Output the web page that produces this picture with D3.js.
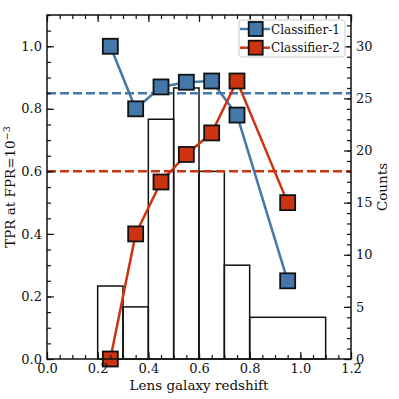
<!DOCTYPE html>
<html>
<head>
<meta charset="utf-8">
<script src="https://cdn.jsdelivr.net/npm/d3@7"></script>
<style>
  body { margin: 0; background: #fff; }
  svg { font-family: "DejaVu Serif", serif; }
</style>
</head>
<body>
<div id="chart"></div>
<script>
// redshift bins for the points
var zMid = [0.25, 0.35, 0.45, 0.55, 0.65, 0.75, 0.95];
var tpr1 = [1.0, 0.80, 0.87, 0.885, 0.889, 0.78, 0.25];
var tpr2 = [0.0, 0.40, 0.566, 0.654, 0.723, 0.889, 0.50];
var base1 = 0.85, base2 = 0.60;

// histogram of lens redshifts
var binEdges = [0.2, 0.3, 0.4, 0.5, 0.6, 0.7, 0.8, 1.1];
var counts = [7, 5, 23, 26, 18, 9, 4];

var xTicks = [0.0, 0.2, 0.4, 0.6, 0.8, 1.0, 1.2];
var yTicks = [0.0, 0.2, 0.4, 0.6, 0.8, 1.0];
var cTicks = [0, 5, 10, 15, 20, 25, 30];

var names = ["Classifier-1", "Classifier-2"];
var colors = ["#4477aa", "#cc3311"];

var W = 399, H = 399;
var m = {left: 47, right: 48, top: 15, bottom: 40};
var iw = W - m.left - m.right, ih = H - m.top - m.bottom;

var svg = d3.select("#chart").append("svg")
  .attr("width", W).attr("height", H);
var g = svg.append("g").attr("transform", "translate(" + m.left + "," + m.top + ")");

var x = d3.scaleLinear().domain([0, 1.2]).range([0, iw]);
var y = d3.scaleLinear().domain([0, 1.1]).range([ih, 0]);
var yc = d3.scaleLinear().domain([0, 33]).range([ih, 0]);

// histogram (counts, right axis)
var bins = counts.map(function(c, i) { return {x0: binEdges[i], x1: binEdges[i + 1], n: c}; });
g.append("g").selectAll("rect").data(bins).enter().append("rect")
  .attr("x", function(d) { return x(d.x0); })
  .attr("y", function(d) { return yc(d.n); })
  .attr("width", function(d) { return x(d.x1) - x(d.x0); })
  .attr("height", function(d) { return yc(0) - yc(d.n); })
  .attr("fill", "none").attr("stroke", "#111").attr("stroke-width", 1.5);

// baseline dashed lines
[base1, base2].forEach(function(b, i) {
  g.append("line")
    .attr("x1", 0).attr("x2", iw)
    .attr("y1", y(b)).attr("y2", y(b))
    .attr("stroke", colors[i]).attr("stroke-width", 2.5)
    .attr("stroke-dasharray", "9,4");
});

var line = d3.line().x(function(d) { return x(d[0]); }).y(function(d) { return y(d[1]); });
var series = [tpr1, tpr2];
var ms = 15;
series.forEach(function(vals, i) {
  var pts = zMid.map(function(z, j) { return [z, vals[j]]; });
  g.append("path").datum(pts).attr("d", line)
    .attr("fill", "none").attr("stroke", colors[i]).attr("stroke-width", 2.5);
  g.append("g").selectAll("rect").data(pts).enter().append("rect")
    .attr("x", function(d) { return x(d[0]) - ms / 2; })
    .attr("y", function(d) { return y(d[1]) - ms / 2; })
    .attr("width", ms).attr("height", ms)
    .attr("fill", colors[i]).attr("stroke", "#111").attr("stroke-width", 1.8);
});

// axes with inward ticks
function minor(step, lo, hi) {
  return d3.range(lo, hi + 1e-9, step);
}
var fmt = d3.format(".1f");
function styleAxis(sel) {
  sel.select(".domain").remove();
  sel.selectAll(".tick line").attr("stroke", "#111").attr("stroke-width", 1.2);
  sel.selectAll("text").attr("fill", "#111").style("font-size", "13px")
    .style("font-family", "DejaVu Serif, serif");
}

// bottom
g.append("g").attr("transform", "translate(0," + ih + ")")
  .call(d3.axisBottom(x).tickValues(minor(0.05, 0, 1.2)).tickSize(-4).tickFormat(""))
  .call(styleAxis);
g.append("g").attr("transform", "translate(0," + ih + ")")
  .call(d3.axisBottom(x).tickValues(xTicks).tickSize(-7).tickPadding(5).tickFormat(fmt))
  .call(styleAxis);
// top
g.append("g")
  .call(d3.axisTop(x).tickValues(minor(0.05, 0, 1.2)).tickSize(-4).tickFormat(""))
  .call(styleAxis);
g.append("g")
  .call(d3.axisTop(x).tickValues(xTicks).tickSize(-7).tickFormat(""))
  .call(styleAxis);
// left
g.append("g")
  .call(d3.axisLeft(y).tickValues(minor(0.05, 0, 1.1)).tickSize(-4).tickFormat(""))
  .call(styleAxis);
g.append("g")
  .call(d3.axisLeft(y).tickValues(yTicks).tickSize(-7).tickPadding(5).tickFormat(fmt))
  .call(styleAxis);
// right (counts)
g.append("g").attr("transform", "translate(" + iw + ",0)")
  .call(d3.axisRight(yc).tickValues(minor(1, 0, 33)).tickSize(-4).tickFormat(""))
  .call(styleAxis);
g.append("g").attr("transform", "translate(" + iw + ",0)")
  .call(d3.axisRight(yc).tickValues(cTicks).tickSize(-7).tickPadding(5).tickFormat(d3.format("d")))
  .call(styleAxis);

// frame
g.append("rect").attr("width", iw).attr("height", ih)
  .attr("fill", "none").attr("stroke", "#111").attr("stroke-width", 1.5);

// axis titles
svg.append("text")
  .attr("x", m.left + iw / 2).attr("y", 390)
  .attr("text-anchor", "middle").style("font-size", "13.5px").attr("fill", "#111")
  .text("Lens galaxy redshift");

var yl = svg.append("text")
  .attr("transform", "translate(15," + (m.top + ih / 2) + ") rotate(-90)")
  .attr("text-anchor", "middle").style("font-size", "13.5px").attr("fill", "#111");
yl.append("tspan").text("TPR at FPR=10");
yl.append("tspan").attr("dy", -5).style("font-size", "9.5px").text("\u22123");

svg.append("text")
  .attr("transform", "translate(387," + (m.top + ih / 2) + ") rotate(-90)")
  .attr("text-anchor", "middle").style("font-size", "13.5px").attr("fill", "#111")
  .text("Counts");

// legend
var lg = g.append("g").attr("transform", "translate(192,5)");
lg.append("rect").attr("width", 106).attr("height", 37).attr("rx", 3)
  .attr("fill", "#fff").attr("fill-opacity", 0.8)
  .attr("stroke", "#ccc").attr("stroke-width", 1);
names.forEach(function(n, i) {
  var cy = 9 + i * 18.7;
  lg.append("line").attr("x1", 1).attr("x2", 31).attr("y1", cy).attr("y2", cy)
    .attr("stroke", colors[i]).attr("stroke-width", 2.5);
  lg.append("rect").attr("x", 16.7 - 7).attr("y", cy - 7)
    .attr("width", 14).attr("height", 14)
    .attr("fill", colors[i]).attr("stroke", "#111").attr("stroke-width", 1.8);
  lg.append("text").attr("x", 32).attr("y", cy + 4.5)
    .style("font-size", "12px").attr("fill", "#111").text(n);
});
</script>
</body>
</html>
